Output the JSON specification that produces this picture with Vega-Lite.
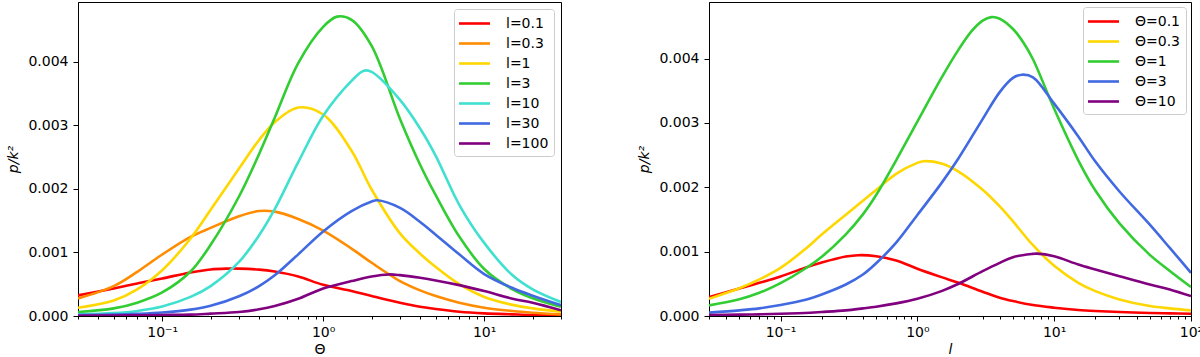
{
  "$schema": "https://vega.github.io/schema/vega-lite/v6.json",
  "background": "white",
  "padding": {"left": 5, "top": 1, "right": 0, "bottom": 0},
  "spacing": 74,
  "config": {
    "font": "DejaVu Sans",
    "view": {"stroke": "black", "strokeWidth": 1},
    "axis": {"domainColor": "black", "domainWidth": 1, "tickColor": "black", "tickWidth": 1, "labelColor": "black", "titleColor": "black", "labelFontSize": 14, "titleFontSize": 14, "labelFont": "DejaVu Sans", "titleFont": "DejaVu Sans", "titleFontWeight": "normal", "grid": false},
    "legend": {"labelFont": "DejaVu Sans", "labelFontSize": 14, "labelColor": "black"}
  },
  "datasets": {
    "left": [
      {"x":0.03,"p":0.000324,"s":"l=0.1"},{"x":0.05,"p":0.000434,"s":"l=0.1"},{"x":0.07,"p":0.000512,"s":"l=0.1"},{"x":0.1,"p":0.000591,"s":"l=0.1"},{"x":0.15,"p":0.000685,"s":"l=0.1"},{"x":0.2,"p":0.000732,"s":"l=0.1"},{"x":0.25,"p":0.000745,"s":"l=0.1"},{"x":0.3,"p":0.000745,"s":"l=0.1"},{"x":0.4,"p":0.00073,"s":"l=0.1"},{"x":0.5,"p":0.0007,"s":"l=0.1"},{"x":0.7,"p":0.000622,"s":"l=0.1"},{"x":1,"p":0.00049,"s":"l=0.1"},{"x":1.5,"p":0.000392,"s":"l=0.1"},{"x":2,"p":0.000314,"s":"l=0.1"},{"x":3,"p":0.000209,"s":"l=0.1"},{"x":4,"p":0.000146,"s":"l=0.1"},{"x":5,"p":0.00011,"s":"l=0.1"},{"x":7,"p":0.000068,"s":"l=0.1"},{"x":10,"p":0.000042,"s":"l=0.1"},{"x":15,"p":0.000026,"s":"l=0.1"},{"x":20,"p":0.000016,"s":"l=0.1"},{"x":30,"p":0.00001,"s":"l=0.1"},
      {"x":0.03,"p":0.000277,"s":"l=0.3"},{"x":0.05,"p":0.000471,"s":"l=0.3"},{"x":0.07,"p":0.000695,"s":"l=0.3"},{"x":0.1,"p":0.000967,"s":"l=0.3"},{"x":0.15,"p":0.001245,"s":"l=0.3"},{"x":0.2,"p":0.001386,"s":"l=0.3"},{"x":0.3,"p":0.001569,"s":"l=0.3"},{"x":0.4,"p":0.001652,"s":"l=0.3"},{"x":0.5,"p":0.001642,"s":"l=0.3"},{"x":0.7,"p":0.001527,"s":"l=0.3"},{"x":1,"p":0.001344,"s":"l=0.3"},{"x":1.5,"p":0.001061,"s":"l=0.3"},{"x":2,"p":0.000837,"s":"l=0.3"},{"x":3,"p":0.000549,"s":"l=0.3"},{"x":4,"p":0.000403,"s":"l=0.3"},{"x":5,"p":0.000314,"s":"l=0.3"},{"x":7,"p":0.000209,"s":"l=0.3"},{"x":10,"p":0.000131,"s":"l=0.3"},{"x":15,"p":0.000078,"s":"l=0.3"},{"x":20,"p":0.000052,"s":"l=0.3"},{"x":30,"p":0.000026,"s":"l=0.3"},
      {"x":0.03,"p":0.00013,"s":"l=1"},{"x":0.05,"p":0.000245,"s":"l=1"},{"x":0.07,"p":0.00042,"s":"l=1"},{"x":0.1,"p":0.00072,"s":"l=1"},{"x":0.15,"p":0.00122,"s":"l=1"},{"x":0.2,"p":0.00167,"s":"l=1"},{"x":0.3,"p":0.00232,"s":"l=1"},{"x":0.4,"p":0.00277,"s":"l=1"},{"x":0.5,"p":0.00305,"s":"l=1"},{"x":0.7,"p":0.00328,"s":"l=1"},{"x":1,"p":0.00317,"s":"l=1"},{"x":1.5,"p":0.0026,"s":"l=1"},{"x":2,"p":0.00199,"s":"l=1"},{"x":3,"p":0.0013,"s":"l=1"},{"x":4,"p":0.00098,"s":"l=1"},{"x":5,"p":0.00077,"s":"l=1"},{"x":7,"p":0.0005,"s":"l=1"},{"x":10,"p":0.0003,"s":"l=1"},{"x":15,"p":0.000175,"s":"l=1"},{"x":20,"p":0.00012,"s":"l=1"},{"x":30,"p":0.000068,"s":"l=1"},
      {"x":0.03,"p":0.000063,"s":"l=3"},{"x":0.05,"p":0.00012,"s":"l=3"},{"x":0.07,"p":0.00021,"s":"l=3"},{"x":0.1,"p":0.00037,"s":"l=3"},{"x":0.15,"p":0.0007,"s":"l=3"},{"x":0.2,"p":0.00112,"s":"l=3"},{"x":0.3,"p":0.00188,"s":"l=3"},{"x":0.4,"p":0.00255,"s":"l=3"},{"x":0.5,"p":0.00312,"s":"l=3"},{"x":0.7,"p":0.00398,"s":"l=3"},{"x":1,"p":0.00455,"s":"l=3"},{"x":1.22,"p":0.00471,"s":"l=3"},{"x":1.5,"p":0.00466,"s":"l=3"},{"x":2,"p":0.00425,"s":"l=3"},{"x":3,"p":0.0031,"s":"l=3"},{"x":4,"p":0.00238,"s":"l=3"},{"x":5,"p":0.0019,"s":"l=3"},{"x":7,"p":0.00125,"s":"l=3"},{"x":10,"p":0.00074,"s":"l=3"},{"x":15,"p":0.00042,"s":"l=3"},{"x":20,"p":0.00028,"s":"l=3"},{"x":30,"p":0.000145,"s":"l=3"},
      {"x":0.03,"p":0.000026,"s":"l=10"},{"x":0.05,"p":0.000045,"s":"l=10"},{"x":0.07,"p":0.00008,"s":"l=10"},{"x":0.1,"p":0.00015,"s":"l=10"},{"x":0.15,"p":0.0003,"s":"l=10"},{"x":0.2,"p":0.00047,"s":"l=10"},{"x":0.3,"p":0.00085,"s":"l=10"},{"x":0.4,"p":0.00127,"s":"l=10"},{"x":0.5,"p":0.00168,"s":"l=10"},{"x":0.7,"p":0.00242,"s":"l=10"},{"x":1,"p":0.00315,"s":"l=10"},{"x":1.5,"p":0.0037,"s":"l=10"},{"x":1.79,"p":0.00386,"s":"l=10"},{"x":2,"p":0.00384,"s":"l=10"},{"x":3,"p":0.0034,"s":"l=10"},{"x":4,"p":0.00295,"s":"l=10"},{"x":5,"p":0.00252,"s":"l=10"},{"x":7,"p":0.00175,"s":"l=10"},{"x":10,"p":0.00115,"s":"l=10"},{"x":15,"p":0.00064,"s":"l=10"},{"x":20,"p":0.00042,"s":"l=10"},{"x":30,"p":0.00022,"s":"l=10"},
      {"x":0.03,"p":0.000016,"s":"l=30"},{"x":0.05,"p":0.000024,"s":"l=30"},{"x":0.07,"p":0.000035,"s":"l=30"},{"x":0.1,"p":0.000055,"s":"l=30"},{"x":0.15,"p":0.0001,"s":"l=30"},{"x":0.2,"p":0.00016,"s":"l=30"},{"x":0.3,"p":0.00031,"s":"l=30"},{"x":0.4,"p":0.00047,"s":"l=30"},{"x":0.5,"p":0.00064,"s":"l=30"},{"x":0.7,"p":0.00097,"s":"l=30"},{"x":1,"p":0.00133,"s":"l=30"},{"x":1.5,"p":0.00165,"s":"l=30"},{"x":2,"p":0.0018,"s":"l=30"},{"x":2.16,"p":0.00182,"s":"l=30"},{"x":3,"p":0.0017,"s":"l=30"},{"x":4,"p":0.00148,"s":"l=30"},{"x":5,"p":0.00128,"s":"l=30"},{"x":7,"p":0.00097,"s":"l=30"},{"x":10,"p":0.00066,"s":"l=30"},{"x":15,"p":0.00044,"s":"l=30"},{"x":20,"p":0.00032,"s":"l=30"},{"x":30,"p":0.00017,"s":"l=30"},
      {"x":0.03,"p":0.000005,"s":"l=100"},{"x":0.05,"p":0.000008,"s":"l=100"},{"x":0.07,"p":0.000011,"s":"l=100"},{"x":0.1,"p":0.000016,"s":"l=100"},{"x":0.15,"p":0.000021,"s":"l=100"},{"x":0.2,"p":0.000037,"s":"l=100"},{"x":0.3,"p":0.000063,"s":"l=100"},{"x":0.4,"p":0.000105,"s":"l=100"},{"x":0.5,"p":0.000157,"s":"l=100"},{"x":0.7,"p":0.000272,"s":"l=100"},{"x":1,"p":0.000434,"s":"l=100"},{"x":1.5,"p":0.000549,"s":"l=100"},{"x":2,"p":0.000622,"s":"l=100"},{"x":2.56,"p":0.000654,"s":"l=100"},{"x":3,"p":0.000643,"s":"l=100"},{"x":4,"p":0.000601,"s":"l=100"},{"x":5,"p":0.00056,"s":"l=100"},{"x":7,"p":0.000486,"s":"l=100"},{"x":10,"p":0.000392,"s":"l=100"},{"x":15,"p":0.000272,"s":"l=100"},{"x":20,"p":0.000209,"s":"l=100"},{"x":30,"p":0.00009,"s":"l=100"}
    ],
    "right": [
      {"x":0.03,"p":0.000294,"s":"Θ=0.1"},{"x":0.05,"p":0.000428,"s":"Θ=0.1"},{"x":0.07,"p":0.000516,"s":"Θ=0.1"},{"x":0.1,"p":0.000614,"s":"Θ=0.1"},{"x":0.15,"p":0.000748,"s":"Θ=0.1"},{"x":0.2,"p":0.000831,"s":"Θ=0.1"},{"x":0.3,"p":0.000924,"s":"Θ=0.1"},{"x":0.37,"p":0.000945,"s":"Θ=0.1"},{"x":0.5,"p":0.000929,"s":"Θ=0.1"},{"x":0.7,"p":0.000862,"s":"Θ=0.1"},{"x":1,"p":0.000735,"s":"Θ=0.1"},{"x":1.5,"p":0.000604,"s":"Θ=0.1"},{"x":2,"p":0.000516,"s":"Θ=0.1"},{"x":3,"p":0.000377,"s":"Θ=0.1"},{"x":4,"p":0.000284,"s":"Θ=0.1"},{"x":5,"p":0.000232,"s":"Θ=0.1"},{"x":7,"p":0.00017,"s":"Θ=0.1"},{"x":10,"p":0.000129,"s":"Θ=0.1"},{"x":15,"p":0.000093,"s":"Θ=0.1"},{"x":20,"p":0.000077,"s":"Θ=0.1"},{"x":30,"p":0.000062,"s":"Θ=0.1"},{"x":50,"p":0.000046,"s":"Θ=0.1"},{"x":70,"p":0.000041,"s":"Θ=0.1"},{"x":100,"p":0.000036,"s":"Θ=0.1"},
      {"x":0.03,"p":0.000268,"s":"Θ=0.3"},{"x":0.05,"p":0.00043,"s":"Θ=0.3"},{"x":0.07,"p":0.000568,"s":"Θ=0.3"},{"x":0.1,"p":0.000748,"s":"Θ=0.3"},{"x":0.15,"p":0.001032,"s":"Θ=0.3"},{"x":0.2,"p":0.001265,"s":"Θ=0.3"},{"x":0.3,"p":0.001574,"s":"Θ=0.3"},{"x":0.4,"p":0.00179,"s":"Θ=0.3"},{"x":0.5,"p":0.00196,"s":"Θ=0.3"},{"x":0.7,"p":0.00221,"s":"Θ=0.3"},{"x":1,"p":0.00238,"s":"Θ=0.3"},{"x":1.11,"p":0.002405,"s":"Θ=0.3"},{"x":1.5,"p":0.00237,"s":"Θ=0.3"},{"x":2,"p":0.002245,"s":"Θ=0.3"},{"x":3,"p":0.001961,"s":"Θ=0.3"},{"x":4,"p":0.001703,"s":"Θ=0.3"},{"x":5,"p":0.001471,"s":"Θ=0.3"},{"x":7,"p":0.0011,"s":"Θ=0.3"},{"x":10,"p":0.00078,"s":"Θ=0.3"},{"x":15,"p":0.000516,"s":"Θ=0.3"},{"x":20,"p":0.000387,"s":"Θ=0.3"},{"x":30,"p":0.000258,"s":"Θ=0.3"},{"x":50,"p":0.000155,"s":"Θ=0.3"},{"x":70,"p":0.000119,"s":"Θ=0.3"},{"x":100,"p":0.000088,"s":"Θ=0.3"},
      {"x":0.03,"p":0.000165,"s":"Θ=1"},{"x":0.05,"p":0.00026,"s":"Θ=1"},{"x":0.07,"p":0.00036,"s":"Θ=1"},{"x":0.1,"p":0.00051,"s":"Θ=1"},{"x":0.15,"p":0.00073,"s":"Θ=1"},{"x":0.2,"p":0.00092,"s":"Θ=1"},{"x":0.3,"p":0.00127,"s":"Θ=1"},{"x":0.4,"p":0.00158,"s":"Θ=1"},{"x":0.5,"p":0.00188,"s":"Θ=1"},{"x":0.7,"p":0.00242,"s":"Θ=1"},{"x":1,"p":0.00302,"s":"Θ=1"},{"x":1.5,"p":0.0037,"s":"Θ=1"},{"x":2,"p":0.00414,"s":"Θ=1"},{"x":2.5,"p":0.00443,"s":"Θ=1"},{"x":3,"p":0.00459,"s":"Θ=1"},{"x":3.47,"p":0.004645,"s":"Θ=1"},{"x":4,"p":0.00462,"s":"Θ=1"},{"x":5,"p":0.00446,"s":"Θ=1"},{"x":6,"p":0.00424,"s":"Θ=1"},{"x":7,"p":0.00399,"s":"Θ=1"},{"x":10,"p":0.00322,"s":"Θ=1"},{"x":15,"p":0.00242,"s":"Θ=1"},{"x":20,"p":0.00195,"s":"Θ=1"},{"x":30,"p":0.00144,"s":"Θ=1"},{"x":50,"p":0.00095,"s":"Θ=1"},{"x":70,"p":0.0007,"s":"Θ=1"},{"x":100,"p":0.00045,"s":"Θ=1"},
      {"x":0.03,"p":0.000052,"s":"Θ=3"},{"x":0.05,"p":0.000088,"s":"Θ=3"},{"x":0.07,"p":0.000119,"s":"Θ=3"},{"x":0.1,"p":0.00017,"s":"Θ=3"},{"x":0.15,"p":0.000248,"s":"Θ=3"},{"x":0.2,"p":0.000335,"s":"Θ=3"},{"x":0.3,"p":0.00049,"s":"Θ=3"},{"x":0.4,"p":0.000645,"s":"Θ=3"},{"x":0.5,"p":0.00082,"s":"Θ=3"},{"x":0.7,"p":0.00114,"s":"Θ=3"},{"x":1,"p":0.00157,"s":"Θ=3"},{"x":1.5,"p":0.002065,"s":"Θ=3"},{"x":2,"p":0.002452,"s":"Θ=3"},{"x":3,"p":0.00306,"s":"Θ=3"},{"x":4,"p":0.00348,"s":"Θ=3"},{"x":5,"p":0.0037,"s":"Θ=3"},{"x":5.8,"p":0.00375,"s":"Θ=3"},{"x":7,"p":0.00371,"s":"Θ=3"},{"x":10,"p":0.0033,"s":"Θ=3"},{"x":15,"p":0.00279,"s":"Θ=3"},{"x":20,"p":0.0024,"s":"Θ=3"},{"x":30,"p":0.001935,"s":"Θ=3"},{"x":50,"p":0.001419,"s":"Θ=3"},{"x":70,"p":0.001058,"s":"Θ=3"},{"x":100,"p":0.000671,"s":"Θ=3"},
      {"x":0.03,"p":0.000015,"s":"Θ=10"},{"x":0.05,"p":0.000021,"s":"Θ=10"},{"x":0.07,"p":0.000026,"s":"Θ=10"},{"x":0.1,"p":0.000036,"s":"Θ=10"},{"x":0.15,"p":0.000046,"s":"Θ=10"},{"x":0.2,"p":0.000062,"s":"Θ=10"},{"x":0.3,"p":0.000088,"s":"Θ=10"},{"x":0.4,"p":0.000119,"s":"Θ=10"},{"x":0.5,"p":0.000145,"s":"Θ=10"},{"x":0.7,"p":0.000196,"s":"Θ=10"},{"x":1,"p":0.000268,"s":"Θ=10"},{"x":1.5,"p":0.000387,"s":"Θ=10"},{"x":2,"p":0.000501,"s":"Θ=10"},{"x":3,"p":0.000697,"s":"Θ=10"},{"x":4,"p":0.000826,"s":"Θ=10"},{"x":5,"p":0.000914,"s":"Θ=10"},{"x":7,"p":0.000965,"s":"Θ=10"},{"x":7.5,"p":0.00097,"s":"Θ=10"},{"x":10,"p":0.000929,"s":"Θ=10"},{"x":15,"p":0.0008,"s":"Θ=10"},{"x":20,"p":0.000723,"s":"Θ=10"},{"x":30,"p":0.000619,"s":"Θ=10"},{"x":50,"p":0.00049,"s":"Θ=10"},{"x":70,"p":0.000413,"s":"Θ=10"},{"x":100,"p":0.00031,"s":"Θ=10"}
    ]
  },
  "hconcat": [
    {
      "width": 483,
      "height": 314,
      "data": {"name": "left"},
      "mark": {"type": "line", "strokeWidth": 2.6, "interpolate": "catmull-rom", "clip": true},
      "encoding": {
        "x": {
          "field": "x", "type": "quantitative",
          "scale": {"type": "log", "domain": [0.03, 30], "nice": false},
          "axis": {
            "title": "Θ",
            "values": [0.03,0.04,0.05,0.06,0.07,0.08,0.09,0.1,0.2,0.3,0.4,0.5,0.6,0.7,0.8,0.9,1,2,3,4,5,6,7,8,9,10,20,30],
            "labelExpr": "datum.value == 0.1 ? '10⁻¹' : datum.value == 1 ? '10⁰' : datum.value == 10 ? '10¹' : datum.value == 100 ? '10²' : ''",
            "tickSize": {"condition": {"test": "datum.value == 0.1 || datum.value == 1 || datum.value == 10 || datum.value == 100", "value": 5}, "value": 3},
            "labelFlush": false, "labelOverlap": false, "labelPadding": 4,
            "titleY": 37, "titleBaseline": "alphabetic"
          }
        },
        "y": {
          "field": "p", "type": "quantitative",
          "scale": {"domain": [0, 0.00494], "nice": false, "zero": true},
          "axis": {
            "title": "p/k²", "titleFontStyle": "italic",
            "values": [0, 0.001, 0.002, 0.003, 0.004], "format": ".3f",
            "tickSize": 5, "labelPadding": 5,
            "titleX": -65, "titleY": 157, "titleBaseline": "middle", "titleAlign": "center"
          }
        },
        "color": {
          "field": "s", "type": "nominal",
          "scale": {"domain": ["l=0.1","l=0.3","l=1","l=3","l=10","l=30","l=100"], "range": ["#ff0000","#ff8c00","#ffd700","#32cd32","#40e0d0","#4169e1","#800080"]},
          "legend": {"orient": "top-right", "offset": 7, "title": null, "symbolType": "M-2,0H2", "symbolSize": 240, "symbolStrokeWidth": 2.6, "symbolOffset": 6, "labelOffset": 22, "padding": 5, "rowPadding": 3, "strokeColor": "#cccccc", "fillColor": "rgba(255,255,255,0.8)", "cornerRadius": 3}
        }
      }
    },
    {
      "width": 482,
      "height": 314,
      "data": {"name": "right"},
      "mark": {"type": "line", "strokeWidth": 2.6, "interpolate": "catmull-rom", "clip": true},
      "encoding": {
        "x": {
          "field": "x", "type": "quantitative",
          "scale": {"type": "log", "domain": [0.03, 100], "nice": false},
          "axis": {
            "title": "l", "titleFontStyle": "italic",
            "values": [0.03,0.04,0.05,0.06,0.07,0.08,0.09,0.1,0.2,0.3,0.4,0.5,0.6,0.7,0.8,0.9,1,2,3,4,5,6,7,8,9,10,20,30,40,50,60,70,80,90,100],
            "labelExpr": "datum.value == 0.1 ? '10⁻¹' : datum.value == 1 ? '10⁰' : datum.value == 10 ? '10¹' : datum.value == 100 ? '10²' : ''",
            "tickSize": {"condition": {"test": "datum.value == 0.1 || datum.value == 1 || datum.value == 10 || datum.value == 100", "value": 5}, "value": 3},
            "labelFlush": false, "labelOverlap": false, "labelPadding": 4,
            "titleY": 37, "titleBaseline": "alphabetic"
          }
        },
        "y": {
          "field": "p", "type": "quantitative",
          "scale": {"domain": [0, 0.00488], "nice": false, "zero": true},
          "axis": {
            "title": "p/k²", "titleFontStyle": "italic",
            "values": [0, 0.001, 0.002, 0.003, 0.004], "format": ".3f",
            "tickSize": 5, "labelPadding": 5,
            "titleX": -65, "titleY": 157, "titleBaseline": "middle", "titleAlign": "center"
          }
        },
        "color": {
          "field": "s", "type": "nominal",
          "scale": {"domain": ["Θ=0.1","Θ=0.3","Θ=1","Θ=3","Θ=10"], "range": ["#ff0000","#ffd700","#32cd32","#4169e1","#800080"]},
          "legend": {"orient": "top-right", "offset": 5, "title": null, "symbolType": "M-2,0H2", "symbolSize": 240, "symbolStrokeWidth": 2.6, "symbolOffset": 6, "labelOffset": 22, "padding": 5, "rowPadding": 3, "strokeColor": "#cccccc", "fillColor": "rgba(255,255,255,0.8)", "cornerRadius": 3}
        }
      }
    }
  ],
  "resolve": {"scale": {"color": "independent", "x": "independent", "y": "independent"}, "legend": {"color": "independent"}}
}
